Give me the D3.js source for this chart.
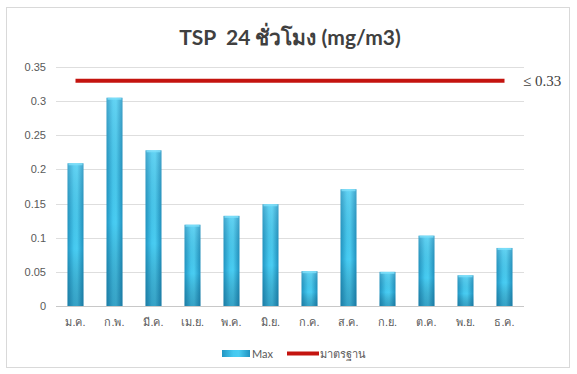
<!DOCTYPE html>
<html>
<head>
<meta charset="utf-8">
<script src="https://cdn.jsdelivr.net/npm/d3@7"></script>
<style>
  html, body { margin: 0; padding: 0; background: #fff; }
  svg { display: block; }
</style>
</head>
<body>
<div id="chart"></div>
<script>
// Monthly maximum 24-hour TSP (mg/m3) with the 0.33 standard
const months = ["ม.ค.", "ก.พ.", "มี.ค.", "เม.ย.", "พ.ค.", "มิ.ย.", "ก.ค.", "ส.ค.", "ก.ย.", "ต.ค.", "พ.ย.", "ธ.ค."];
const maxValues = [0.209, 0.305, 0.228, 0.119, 0.132, 0.149, 0.051, 0.171, 0.050, 0.103, 0.045, 0.085];
const standardValues = [0.33, 0.33, 0.33, 0.33, 0.33, 0.33, 0.33, 0.33, 0.33, 0.33, 0.33, 0.33];
const yTicks = [0, 0.05, 0.1, 0.15, 0.2, 0.25, 0.3, 0.35];
const yTickLabels = ["0", "0.05", "0.1", "0.15", "0.2", "0.25", "0.3", "0.35"];
const legendLabels = ["Max", "มาตรฐาน"];
const titleText = "TSP  24 ชั่วโมง (mg/m3)";
const standardLabel = "≤ 0.33";

const W = 577, H = 374;
const plot = { left: 56, right: 524, top: 67, bottom: 306 };

const svg = d3.select("#chart").append("svg")
  .attr("width", W).attr("height", H)
  .style("font-family", "Lato, 'Open Sans', 'Noto Sans', sans-serif");

// chart frame
svg.append("rect")
  .attr("x", 6.5).attr("y", 7.5).attr("width", 563).attr("height", 360)
  .attr("fill", "#fff").attr("stroke", "#d9d9d9").attr("stroke-width", 1);

const defs = svg.append("defs");
const barGrad = defs.append("linearGradient").attr("id", "barGrad")
  .attr("x1", "0").attr("x2", "1").attr("y1", "0").attr("y2", "0");
barGrad.append("stop").attr("offset", "0%").attr("stop-color", "#2296c3");
barGrad.append("stop").attr("offset", "40%").attr("stop-color", "#45c9f0");
barGrad.append("stop").attr("offset", "60%").attr("stop-color", "#4acdf2");
barGrad.append("stop").attr("offset", "100%").attr("stop-color", "#2092c0");

const shadeGrad = defs.append("linearGradient").attr("id", "shadeGrad")
  .attr("x1", "0").attr("x2", "0").attr("y1", "0").attr("y2", "1");
shadeGrad.append("stop").attr("offset", "0%").attr("stop-color", "#ffffff").attr("stop-opacity", 0.15);
shadeGrad.append("stop").attr("offset", "60%").attr("stop-color", "#000000").attr("stop-opacity", 0);
shadeGrad.append("stop").attr("offset", "100%").attr("stop-color", "#0a3a5a").attr("stop-opacity", 0.28);

const x = d3.scaleBand().domain(months).range([plot.left, plot.right]).paddingInner(0.59).paddingOuter(0.295);
const y = d3.scaleLinear().domain([0, 0.35]).range([plot.bottom, plot.top]);

// gridlines
svg.append("g")
  .selectAll("line").data(yTicks).join("line")
  .attr("x1", plot.left).attr("x2", plot.right)
  .attr("y1", d => Math.round(y(d)) + 0.5).attr("y2", d => Math.round(y(d)) + 0.5)
  .attr("stroke", d => d === 0 ? "#c8c8c8" : "#dedede").attr("stroke-width", 1);

// y axis labels
const yAxis = d3.axisLeft(y).tickValues(yTicks)
  .tickFormat((d, i) => yTickLabels[i]).tickSize(0).tickPadding(10);
const gy = svg.append("g").attr("transform", `translate(${plot.left},0)`).call(yAxis);
gy.select(".domain").remove();
gy.selectAll("text").attr("fill", "#595959").style("font-size", "11px");

// x axis labels
const xAxis = d3.axisBottom(x).tickSize(0).tickPadding(12);
const gx = svg.append("g").attr("transform", `translate(0,${plot.bottom})`).call(xAxis);
gx.select(".domain").remove();
gx.selectAll("text").attr("fill", "#595959").style("font-size", "11px");

// bars
const bars = svg.append("g");
bars.selectAll("rect.bar").data(maxValues).join("rect")
  .attr("class", "bar")
  .attr("x", (d, i) => x(months[i]))
  .attr("width", x.bandwidth())
  .attr("y", d => y(d))
  .attr("height", d => y(0) - y(d))
  .attr("fill", "url(#barGrad)");
bars.selectAll("rect.shade").data(maxValues).join("rect")
  .attr("class", "shade")
  .attr("x", (d, i) => x(months[i]))
  .attr("width", x.bandwidth())
  .attr("y", d => y(d))
  .attr("height", d => y(0) - y(d))
  .attr("fill", "url(#shadeGrad)");
bars.selectAll("rect.cap").data(maxValues).join("rect")
  .attr("class", "cap")
  .attr("x", (d, i) => x(months[i]) + 1)
  .attr("width", x.bandwidth() - 2)
  .attr("y", d => y(d))
  .attr("height", 2)
  .attr("fill", "#7fe0fa").attr("opacity", 0.8);

// standard line
const line = d3.line()
  .x((d, i) => x(months[i]) + x.bandwidth() / 2)
  .y(d => y(d));
svg.append("path").datum(standardValues)
  .attr("d", line)
  .attr("fill", "none").attr("stroke", "#c4140f").attr("stroke-width", 4);

svg.append("text")
  .attr("x", 523).attr("y", y(0.33) + 5)
  .attr("fill", "#404040")
  .style("font-family", "'Liberation Serif', 'DejaVu Serif', serif")
  .style("font-size", "15px")
  .text(standardLabel);

// title
svg.append("text")
  .attr("x", 290).attr("y", 45)
  .attr("text-anchor", "middle")
  .attr("fill", "#404040")
  .style("white-space", "pre")
  .style("font-size", "21px").style("font-weight", "bold")
  .text(titleText);

// legend
const legend = svg.append("g").attr("transform", "translate(0,353)");
legend.append("rect").attr("x", 222).attr("y", -3).attr("width", 28).attr("height", 7)
  .attr("fill", "url(#barGrad)");
legend.append("text").attr("x", 252).attr("y", 4.5)
  .attr("fill", "#595959").style("font-size", "11px").text(legendLabels[0]);
legend.append("line").attr("x1", 287).attr("x2", 319).attr("y1", 0.5).attr("y2", 0.5)
  .attr("stroke", "#c4140f").attr("stroke-width", 4);
legend.append("text").attr("x", 320).attr("y", 4.5)
  .attr("fill", "#595959").style("font-size", "11px").text(legendLabels[1]);
</script>
</body>
</html>
